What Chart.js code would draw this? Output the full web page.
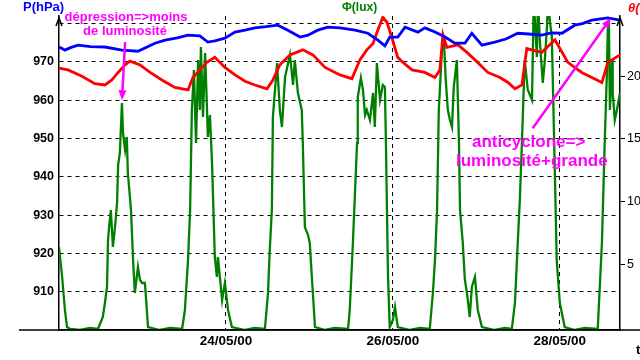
<!DOCTYPE html>
<html>
<head>
<meta charset="utf-8">
<script src="https://cdn.jsdelivr.net/npm/chart.js@4.4.0/dist/chart.umd.min.js"></script>
<style>
  html, body { margin: 0; padding: 0; background: #fff; }
  #chart { display: block; }
</style>
</head>
<body>
<canvas id="chart" width="640" height="360"></canvas>
<script>
// temps en heures depuis le 22/05/00 00h00
const pressureHours = [0, 1.7, 3.5, 5.5, 9.0, 13.2, 18.1, 22.7, 27.6, 30.5, 34.0, 37.1, 40.5, 42.8, 44.8, 47.7, 50.6, 53.5, 56.3,
  59.5, 62.9, 65.8, 69.3, 71.6, 74.4, 77.3, 80.8, 85.1, 88.8, 91.7, 93.7, 95.1, 97.4, 99.5, 103.2,
  105.2, 108.1, 111.0, 113.8, 116.7, 118.7, 121.6, 125.3, 128.5, 131.9, 135.0, 138.8, 141.5, 144.6, 148.3, 150.5, 153.2, 157.8, 161.3];
const pressure = [973.9, 973.1, 973.8, 974.4, 974.0, 973.9, 973.1, 972.8, 974.9, 975.7, 976.3, 977.0, 976.8, 975.2, 975.5, 976.2, 977.8, 978.3, 978.9,
  979.2, 979.6, 978.3, 976.5, 977.0, 978.3, 979.1, 978.9, 978.3, 977.5, 975.7, 974.2, 976.5, 976.5, 979.1, 977.8,
  978.9, 977.8, 976.5, 974.9, 974.9, 977.5, 974.4, 975.2, 976.0, 977.5, 977.3, 977.0, 977.6, 977.5, 979.6, 980.0, 980.9, 981.5, 980.9];

const tempHours = [0, 2.6, 6.6, 10.3, 13.2, 15.2, 17.0, 19.0, 20.4, 23.3, 26.2, 29.6, 33.3, 37.1, 38.5,
  40.5, 42.5, 44.8, 47.7, 50.6, 53.5, 56.3, 59.8, 61.5, 63.5, 66.4, 70.1, 73.0, 76.5, 80.8,
  84.2, 86.5, 88.5, 90.3, 91.7, 93.1, 94.3, 95.7, 97.4, 98.9, 101.5, 105.2, 108.1, 109.5, 110.4,
  111.5, 114.7, 117.3, 119.6, 123.3, 126.8, 129.1, 131.1, 133.1, 134.5, 138.8, 142.6, 146.3, 150.3, 156.1,
  157.8, 161.3];
const temperature = [20.65, 20.5, 20.0, 19.4, 19.3, 19.7, 20.3, 20.9, 21.2, 20.9, 20.3, 19.7, 19.1, 18.9, 19.9,
  20.5, 21.1, 21.5, 20.7, 20.1, 19.6, 19.3, 19.0, 19.7, 20.9, 21.7, 22.1, 21.7, 20.7, 20.1,
  19.8, 21.3, 22.1, 22.6, 23.7, 24.7, 24.3, 23.1, 21.5, 21.1, 20.5, 20.3, 19.9, 20.5, 23.3,
  22.3, 22.5, 21.9, 21.3, 20.3, 19.9, 19.5, 19.0, 19.3, 22.2, 21.9, 22.9, 21.1, 20.3, 19.5,
  21.1, 21.7];

const luxHours = [0.0, 0.9, 1.7, 2.3, 3.2, 6.0, 8.9, 11.2, 12.6, 13.2, 13.8, 14.1, 14.4, 14.9, 15.5, 16.1, 16.7, 17.0, 17.5, 18.1,
  18.4, 19.0, 19.5, 19.8, 20.7, 21.3, 21.8, 22.7, 23.3, 23.9, 24.7, 25.6, 29.0, 31.9, 35.4, 36.2, 37.1, 37.7, 38.2, 38.8,
  39.4, 40.0, 40.5, 40.8, 41.4, 42.0, 42.5, 42.8, 43.4, 44.0, 44.8, 45.4, 45.7, 46.9, 47.7, 48.6, 49.7, 53.5, 56.3, 59.2,
  60.1, 60.6, 61.2, 61.5, 62.7, 63.5, 64.1, 65.0, 66.4, 67.3, 67.8, 68.7, 69.8, 70.1, 70.7, 71.6, 72.1, 72.7, 73.6, 76.5,
  79.3, 83.1, 83.6, 84.5, 85.7, 85.9, 86.8, 87.4, 88.0, 88.5, 89.4, 90.3, 90.8, 91.4, 92.3, 93.1, 93.7, 94.0, 94.6, 95.1,
  96.0, 96.6, 97.4, 100.9, 103.8, 106.6, 107.5, 108.1, 108.7, 109.2, 110.1, 110.7, 111.2, 111.8, 112.4, 113.0, 113.5, 114.4, 115.0, 115.3,
  116.1, 116.7, 117.3, 118.1, 118.7, 119.6, 120.4, 121.6, 125.3, 128.2, 130.2, 131.1, 131.9, 132.5, 133.1, 133.9, 134.8, 136.0, 136.5, 137.4,
  137.7, 138.3, 139.1, 139.7, 140.3, 140.6, 141.1, 141.7, 142.6, 143.1, 144.0, 145.4, 148.3, 151.2, 154.9, 156.1, 156.9, 157.5, 157.8, 158.1,
  158.4, 159.0, 159.2, 159.8, 160.4, 161.3];
const lux = [8300, 5300, 2000, 300, 100, 0, 200, 100, 1300, 2700, 4300, 9000, 10300, 12000, 8300, 10300, 12700, 16500, 17700, 22700,
  19700, 18000, 19300, 15700, 12000, 7000, 3700, 6300, 5000, 4700, 4700, 300, 0, 200, 100, 2000, 7000, 12000, 22000, 26000,
  18700, 27000, 22000, 28300, 21300, 27700, 22700, 19300, 21500, 16700, 7300, 5300, 7300, 3000, 4700, 2000, 300, 0, 200, 100,
  3700, 8000, 12000, 21300, 26700, 22000, 20300, 25300, 27500, 24500, 27000, 23700, 22000, 18700, 10300, 9500, 8700, 5300, 300, 0,
  200, 100, 2000, 8700, 18700, 23300, 25200, 24000, 21500, 22000, 21000, 23700, 20300, 26700, 23000, 24500, 24300, 18700, 5300, 300,
  1000, 2300, 300, 0, 200, 100, 3700, 7000, 12000, 22000, 28000, 28700, 25000, 22000, 21000, 20300, 24300, 27000, 18700, 12000,
  8700, 5000, 3700, 1300, 4300, 5300, 2000, 300, 0, 200, 100, 2700, 8700, 13000, 18700, 27000, 24000, 23000, 33000, 27300,
  33000, 28700, 24700, 27000, 30300, 33000, 31000, 29300, 15300, 7000, 2700, 300, 0, 200, 100, 8700, 18700, 25300, 30300, 31000,
  22000, 27000, 23700, 21000, 22000, 23700];

const dateTickHours = [48, 96, 144];
const dateLabels = ['24/05/00', '26/05/00', '28/05/00'];
const pressureTicks = [910, 920, 930, 940, 950, 960, 970, 980];
const tempTicks = [5, 10, 15, 20];

const FONT = "'Liberation Sans', Arial, sans-serif";
Chart.defaults.font.family = FONT;

const pts = (xs, ys) => xs.map((x, i) => ({ x: x, y: ys[i] }));

const decor = {
  id: 'decor',
  afterDraw(chart) {
    const { ctx, chartArea: a, scales } = chart;
    ctx.save();
    ctx.strokeStyle = '#000';
    ctx.lineWidth = 1.5;
    ctx.beginPath();
    ctx.moveTo(19, a.bottom);
    ctx.lineTo(640, a.bottom);
    ctx.stroke();
    [a.left, a.right].forEach(x => {
      ctx.beginPath();
      ctx.moveTo(x - 3, a.top + 10);
      ctx.lineTo(x, a.top + 2);
      ctx.lineTo(x + 3, a.top + 10);
      ctx.stroke();
    });

    ctx.textBaseline = 'alphabetic';
    ctx.font = 'bold 13px ' + FONT;
    ctx.fillStyle = '#0000ff';
    ctx.fillText('P(hPa)', 23, 11);
    ctx.font = 'bold 12px ' + FONT;
    ctx.fillStyle = '#008000';
    ctx.fillText('Φ(lux)', 342, 11);
    ctx.font = 'bold italic 13px ' + FONT;
    ctx.fillStyle = '#ff0000';
    ctx.fillText('θ(°C)', 628, 12);
    ctx.font = 'bold 13px ' + FONT;
    ctx.fillStyle = '#000';
    ctx.fillText('t', 636, 354);

    // annotations
    const mag = '#ff00ff';
    ctx.fillStyle = mag;
    ctx.textAlign = 'center';
    ctx.font = 'bold 13px ' + FONT;
    ctx.fillText('dépression=>moins', 126, 21);
    ctx.fillText('de luminosité', 125, 35);
    ctx.textAlign = 'left';
    ctx.font = 'bold 17px ' + FONT;
    ctx.fillText('anticyclone=>', 472, 147);
    ctx.fillText('luminosité+grande', 456, 166);

    const arrow = (h0, p0, h1, p1) => {
      const x0 = scales.x.getPixelForValue(h0), y0 = scales.p.getPixelForValue(p0);
      const x1 = scales.x.getPixelForValue(h1), y1 = scales.p.getPixelForValue(p1);
      const ang = Math.atan2(y1 - y0, x1 - x0);
      ctx.strokeStyle = mag;
      ctx.lineWidth = 2.5;
      ctx.beginPath();
      ctx.moveTo(x0, y0);
      ctx.lineTo(x1 - 6 * Math.cos(ang), y1 - 6 * Math.sin(ang));
      ctx.stroke();
      ctx.beginPath();
      ctx.moveTo(x1, y1);
      ctx.lineTo(x1 - 10 * Math.cos(ang) + 4 * Math.sin(ang), y1 - 10 * Math.sin(ang) - 4 * Math.cos(ang));
      ctx.lineTo(x1 - 10 * Math.cos(ang) - 4 * Math.sin(ang), y1 - 10 * Math.sin(ang) + 4 * Math.cos(ang));
      ctx.closePath();
      ctx.fill();
    };
    arrow(19.0, 975.2, 18.1, 960.0);
    arrow(136.2, 952.7, 158.7, 981.5);
    ctx.restore();
  }
};

const chart = new Chart(document.getElementById('chart'), {
  type: 'line',
  data: {
    datasets: [
      { label: 'P', data: pts(pressureHours, pressure), yAxisID: 'p', borderColor: '#0000ff', borderWidth: 2.8 },
      { label: 'θ', data: pts(tempHours, temperature), yAxisID: 'theta', borderColor: '#ff0000', borderWidth: 2.8 },
      { label: 'Φ', data: pts(luxHours, lux), yAxisID: 'lux', borderColor: '#008000', borderWidth: 2.3 }
    ]
  },
  options: {
    responsive: false,
    animation: false,
    layout: { padding: { top: 16, left: 0, right: 0, bottom: 0 } },
    elements: { point: { radius: 0 }, line: { tension: 0 } },
    plugins: { legend: { display: false }, tooltip: { enabled: false } },
    scales: {
      x: {
        type: 'linear', min: 0, max: 161.3,
        afterFit: s => { s.height = 30; },
        afterBuildTicks: s => { s.ticks = dateTickHours.map(v => ({ value: v })); },
        ticks: {
          callback: v => { const i = dateTickHours.indexOf(v); return i < 0 ? '' : dateLabels[i]; },
          font: { size: 13.5, weight: 'bold' }, color: '#000', padding: 3, maxRotation: 0, autoSkip: false
        },
        grid: { color: '#000', lineWidth: 1, drawTicks: false },
        border: { color: '#000', width: 1.5, dash: [4, 4] }
      },
      p: {
        position: 'left', min: 900, max: 982,
        afterFit: s => { s.width = 59; },
        afterBuildTicks: s => { s.ticks = pressureTicks.map(v => ({ value: v })); },
        ticks: {
          callback: v => (v < 980 ? v : ''),
          font: { size: 12.5, weight: 'bold' }, color: '#000', padding: 5
        },
        grid: { color: '#000', lineWidth: 1, drawTicks: false },
        border: { color: '#000', width: 1.5, dash: [4, 4] }
      },
      theta: {
        position: 'right', min: -0.24, max: 24.8,
        afterFit: s => { s.width = 20; },
        afterBuildTicks: s => { s.ticks = tempTicks.map(v => ({ value: v })); },
        ticks: { font: { size: 12.5 }, color: '#000', padding: 2 },
        grid: { drawOnChartArea: false, drawTicks: true, tickLength: 5, color: '#000', lineWidth: 1 },
        border: { color: '#000', width: 1.5 }
      },
      lux: { display: false, min: 0, max: 31400 }
    }
  },
  plugins: [decor]
});
</script>
</body>
</html>
